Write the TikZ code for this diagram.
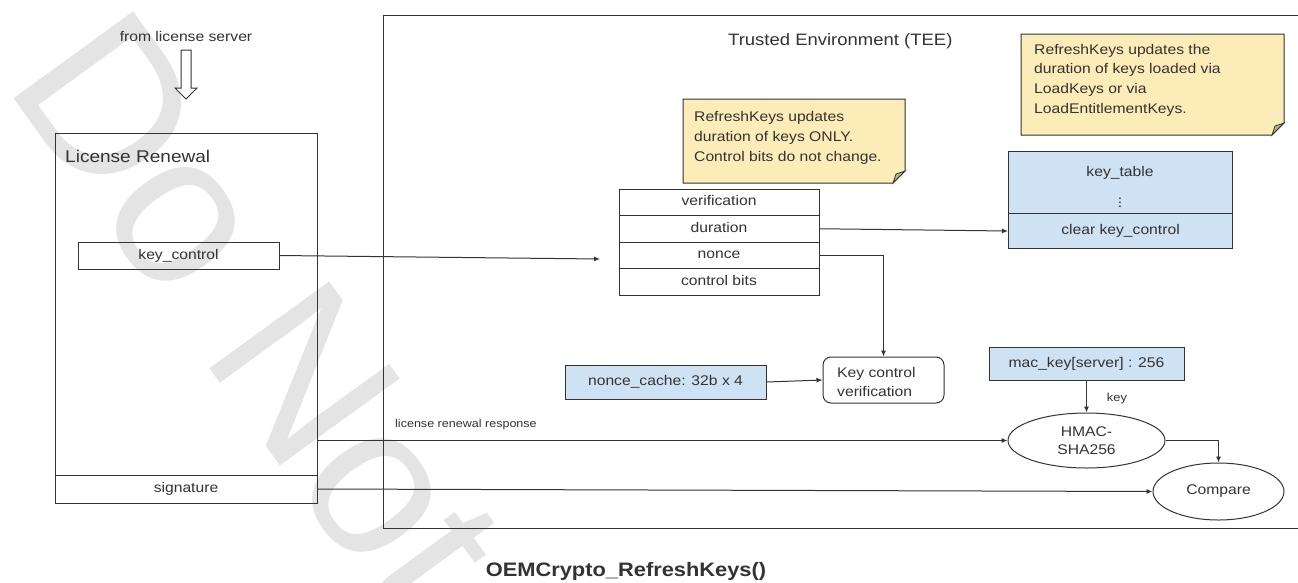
\documentclass[tikz,border=0pt]{standalone}
\usepackage{fontspec}
\setmainfont{Liberation Sans}[FakeStretch=1.12]
\newfontfamily\wmfont{Liberation Sans}
\usetikzlibrary{arrows.meta,shapes.geometric}
\definecolor{notefill}{RGB}{252,236,184}
\definecolor{bluefill}{RGB}{207,226,243}
\definecolor{linec}{RGB}{51,51,51}
\definecolor{wmgray}{RGB}{228,228,228}
\newcommand\myfs[1]{\fontsize{#1}{#1}\selectfont}
\begin{document}
\begin{tikzpicture}[x=1pt,y=-1pt,
  every node/.style={text=linec},
  box/.style={draw=linec, line width=1pt, inner sep=0, font=\myfs{14}, text height=10pt, text depth=3pt},
  lbl/.style={inner sep=0, font=\myfs{14}},
  notebody/.style={draw=linec, line width=1pt, fill=notefill},
  notefold/.style={draw=linec, line width=0.8pt, fill=notefill!75!black},
  notetext/.style={inner sep=0, align=left, font=\fontsize{14}{19.6}\selectfont, anchor=base west},
  oval/.style={draw=linec, line width=1pt, ellipse, inner sep=0, align=center, font=\fontsize{14}{18}\selectfont},
  conn/.style={draw=linec, line width=1pt, -{Latex[length=6pt,width=5pt]}},
]
\useasboundingbox (0,0) rectangle (1298,582);
\clip (0,0) rectangle (1298,582);
\fill[white] (0,0) rectangle (1298,582);

% watermark
\node[text=wmgray, rotate=-54, anchor=base west, inner sep=0, font=\wmfont\fontsize{215}{215}\selectfont] (wm) at (3,84) {Do Not};

% source
\node[lbl, anchor=base] (srv) at (186,41) {from license server};
\draw[linec, line width=1pt, fill=white] (181,50) -- (191,50) -- (191,88) -- (197,88) -- (186,99) -- (175,88) -- (181,88) -- cycle;

% license renewal
\node[box, minimum width=262, minimum height=370, anchor=north west] (lr) at (55,133) {};
\node[lbl, font=\myfs{17}, anchor=base west] (lrtitle) at (65,162) {License Renewal};
\node[box, minimum width=201, minimum height=27] (kc) at (178.5,255.5) {key\_control};
\node[box, minimum width=262, minimum height=28] (sig) at (186,489) {signature};

% TEE
\node[box, minimum width=925, minimum height=513, anchor=north west] (tee) at (383,15) {};
\node[lbl, font=\myfs{16.5}, anchor=base west] (teetitle) at (728,45) {Trusted Environment (TEE)};

% note 1
\draw[notebody] (683,99) -- (905,99) -- (905,171) -- (893,183) -- (683,183) -- cycle;
\draw[notefold] (905,171) -- (893,183) -- (896,174) -- cycle;
\node[notetext] (n1t) at (694,161) {RefreshKeys updates\\duration of keys ONLY.\\Control bits do not change.};

% note 2
\draw[notebody] (1021,34) -- (1284,34) -- (1284,123) -- (1272,135) -- (1021,135) -- cycle;
\draw[notefold] (1284,123) -- (1272,135) -- (1275,126) -- cycle;
\node[notetext] (n2t) at (1034,113) {RefreshKeys updates the\\duration of keys loaded via\\LoadKeys or via\\LoadEntitlementKeys.};

% key control table
\node[box, minimum width=200, minimum height=26.5] (ver) at (719,202.25) {verification};
\node[box, minimum width=200, minimum height=26.5] (dur) at (719,228.75) {duration};
\node[box, minimum width=200, minimum height=26.5] (non) at (719,255.25) {nonce};
\node[box, minimum width=200, minimum height=26.5] (cb) at (719,281.75) {control bits};
\coordinate (kcend) at (600,259);

% key table
\node[box, fill=bluefill, minimum width=224, minimum height=62, anchor=north west] (kt) at (1008,151) {};
\node[lbl, anchor=base] (ktl) at (1120,176) {key\_table};
\node[lbl] (ktdots) at (1120,200) {$\vdots$};
\node[box, fill=bluefill, minimum width=224, minimum height=35, anchor=north west] (clr) at (1008,213) {clear key\_control};

% nonce cache and verification
\node[box, fill=bluefill, minimum width=201, minimum height=34] (nc) at (665.5,382) {nonce\_cache: 32b x 4};
\node[box, rounded corners=8pt, minimum width=121, minimum height=46] (kcv) at (883.5,380) {};
\node[notetext, font=\fontsize{14}{19}\selectfont] (kcvt) at (837,396) {Key control\\verification};

% mac / hmac / compare
\node[box, fill=bluefill, minimum width=195, minimum height=33] (mac) at (1086.5,363.5) {mac\_key[server] : 256};
\node[oval, minimum width=157, minimum height=55] (hmac) at (1086.5,440.5) {HMAC-\\SHA256};
\node[oval, minimum width=131, minimum height=57] (cmp) at (1218.5,491.5) {Compare};
\node[lbl, font=\myfs{11.5}] (keylbl) at (1117,399) {key};
\node[lbl, font=\myfs{11.2}, anchor=base west] (resplbl) at (395,427) {license renewal response};

% connectors
\draw[conn] (kc.east) -- (kcend);
\draw[conn] (dur.east) -- (clr.west);
\draw[conn] (non.east) -| (kcv.north);
\draw[conn] (nc.east) -- (kcv.west);
\draw[conn] (mac.south) -- (hmac.north);
\draw[conn] (hmac.east) -| (cmp.north);
\draw[conn] (lr.east |- hmac.west) -- (hmac.west);
\draw[conn] (sig.east) -- (cmp.west);

% title
\node[lbl, font=\bfseries\myfs{19.5}, anchor=base] (title) at (626,576) {OEMCrypto\_RefreshKeys()};
\end{tikzpicture}
\end{document}
